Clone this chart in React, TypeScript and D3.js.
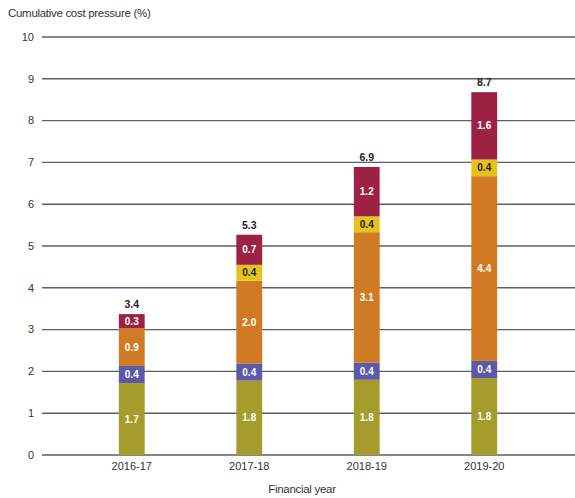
import { useMemo } from 'react'
import * as d3 from 'd3'

const YEARS = ['2016-17', '2017-18', '2018-19', '2019-20']
const SERIES = ['base', 'blue', 'orange', 'yellow', 'crimson']

const BASE = [1.72, 1.78, 1.8, 1.84]
const BLUE = [0.41, 0.41, 0.41, 0.41]
const ORANGE = [0.9, 1.98, 3.12, 4.42]
const YELLOW = [0, 0.38, 0.38, 0.4]
const CRIMSON = [0.34, 0.72, 1.18, 1.61]

const Y_TICKS = [0, 1, 2, 3, 4, 5, 6, 7, 8, 9, 10]

const COLORS: Record<string, string> = {
  base: '#a49d2c',
  blue: '#5b59a8',
  orange: '#d07b24',
  yellow: '#e6c21c',
  crimson: '#9c2143',
}

const W = 575
const H = 498
const FONT = '"Liberation Sans", Arial, sans-serif'

export default function App() {
  const rows = useMemo(
    () =>
      YEARS.map((year, i) => ({
        year,
        base: BASE[i],
        blue: BLUE[i],
        orange: ORANGE[i],
        yellow: YELLOW[i],
        crimson: CRIMSON[i],
      })),
    []
  )

  const stacked = useMemo(() => d3.stack<any>().keys(SERIES)(rows), [rows])

  const x = d3.scaleBand().domain(YEARS).range([73, 543]).paddingInner(0.78).paddingOuter(0.39)
  const y = d3.scaleLinear().domain([0, 10]).range([455, 37])
  const fmt = d3.format('.1f')

  return (
    <svg
      width={W}
      height={H}
      style={{ position: 'absolute', left: 0, top: 0, background: '#fff' }}
      fontFamily={FONT}
    >
      <text x={8} y={17} fontSize={11.5} fill="#333" letterSpacing={-0.3}>
        Cumulative cost pressure (%)
      </text>

      {/* gridlines + y labels */}
      {Y_TICKS.map(t => (
        <g key={t}>
          <line x1={42} x2={W} y1={y(t)} y2={y(t)} stroke="#5e5e5e" strokeWidth={1.4} />
          <text x={34} y={y(t)} dy="0.35em" textAnchor="end" fontSize={11} fill="#333">
            {t}
          </text>
        </g>
      ))}

      {/* stacked bars */}
      {stacked.map(layer => (
        <g key={layer.key}>
          {layer.map((d, i) => {
            const v = d[1] - d[0]
            if (v <= 0) return null
            const bx = x(YEARS[i])!
            const top = y(d[1])
            const h = y(d[0]) - y(d[1])
            return (
              <g key={i}>
                <rect x={bx} y={top} width={x.bandwidth()} height={h} fill={COLORS[layer.key]} />
                <text
                  x={bx + x.bandwidth() / 2}
                  y={top + h / 2}
                  dy="0.36em"
                  textAnchor="middle"
                  fontSize={10}
                  fontWeight="bold"
                  fill={layer.key === 'yellow' ? '#222' : '#fff'}
                >
                  {fmt(v)}
                </text>
              </g>
            )
          })}
        </g>
      ))}

      {/* totals */}
      {rows.map(r => {
        const total = r.base + r.blue + r.orange + r.yellow + r.crimson
        return (
          <text
            key={r.year}
            x={x(r.year)! + x.bandwidth() / 2}
            y={y(total) - 6}
            textAnchor="middle"
            fontSize={10.5}
            fontWeight="bold"
            fill="#222"
          >
            {fmt(total)}
          </text>
        )
      })}

      {/* x labels */}
      {YEARS.map(yr => (
        <text
          key={yr}
          x={x(yr)! + x.bandwidth() / 2}
          y={470}
          textAnchor="middle"
          fontSize={11}
          fill="#333"
        >
          {yr}
        </text>
      ))}
      <text x={302} y={493} textAnchor="middle" fontSize={11.5} fill="#333" letterSpacing={-0.3}>
        Financial year
      </text>
    </svg>
  )
}
